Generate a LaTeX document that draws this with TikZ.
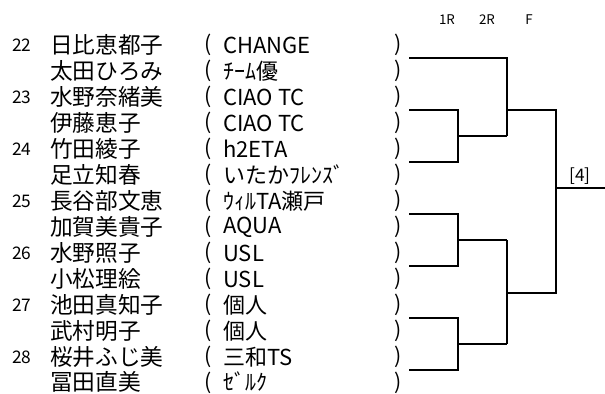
\documentclass[tikz,border=0pt]{standalone}
\usepackage{fontspec}
\setmainfont{Noto Sans CJK JP}

\tikzset{
    player/.style={anchor=west, inner sep=0pt, font=\fontsize{17}{17}\selectfont},
    clubname/.style={anchor=west, inner sep=0pt, font=\fontsize{16.5}{17}\selectfont},
    parenthesis/.style={inner sep=0pt, font=\fontsize{16}{17}\selectfont},
    seednum/.style={inner sep=0pt, font=\fontsize{13}{13}\selectfont},
    roundlbl/.style={inner sep=0pt, font=\fontsize{10}{10}\selectfont},
    bracket/.style={line width=1.4pt}
}

\begin{document}
\begin{tikzpicture}[x=0.75pt, y=-0.75pt]
    \useasboundingbox (0,0) rectangle (605,393);

    % Header
    \node[roundlbl] (r1) at (447,20) {1R};
    \node[roundlbl] (r2) at (487,20) {2R};
    \node[roundlbl] (rf) at (529,20) {F};

    % Seeds
    \node[seednum] (n22) at (22,45) {22};
    \node[seednum] (n23) at (22,97) {23};
    \node[seednum] (n24) at (22,149) {24};
    \node[seednum] (n25) at (22,201) {25};
    \node[seednum] (n26) at (22,253) {26};
    \node[seednum] (n27) at (22,305) {27};
    \node[seednum] (n28) at (22,357) {28};

    % Players
    \node[player] (a1) at (50,45) {日比恵都子};
    \node[player] (a2) at (50,71) {太田ひろみ};
    \node[player] (a3) at (50,97) {水野奈緒美};
    \node[player] (a4) at (50,123) {伊藤恵子};
    \node[player] (a5) at (50,149) {竹田綾子};
    \node[player] (a6) at (50,175) {足立知春};
    \node[player] (a7) at (50,201) {長谷部文恵};
    \node[player] (a8) at (50,227) {加賀美貴子};
    \node[player] (a9) at (50,253) {水野照子};
    \node[player] (a10) at (50,279) {小松理絵};
    \node[player] (a11) at (50,305) {池田真知子};
    \node[player] (a12) at (50,331) {武村明子};
    \node[player] (a13) at (50,357) {桜井ふじ美};
    \node[player] (a14) at (50,382) {冨田直美};

    % Clubs
    \node[clubname] (c1) at (223,45) {CHANGE};
    \node[clubname] (c2) at (223,71) {ﾁｰﾑ優};
    \node[clubname] (c3) at (223,97) {CIAO TC};
    \node[clubname] (c4) at (223,123) {CIAO TC};
    \node[clubname] (c5) at (223,149) {h2ETA};
    \node[clubname] (c6) at (223,175) {いたかﾌﾚﾝｽﾞ};
    \node[clubname] (c7) at (223,201) {ｳｨﾙTA瀬戸};
    \node[clubname] (c8) at (223,227) {AQUA};
    \node[clubname] (c9) at (223,253) {USL};
    \node[clubname] (c10) at (223,279) {USL};
    \node[clubname] (c11) at (223,305) {個人};
    \node[clubname] (c12) at (223,331) {個人};
    \node[clubname] (c13) at (223,357) {三和TS};
    \node[clubname] (c14) at (223,382) {ｾﾞﾙｸ};

    \foreach \i in {1,...,14} {
        \node[parenthesis] (o\i) at (208,{45+26*(\i-1)}) {(};
        \node[parenthesis] (e\i) at (398,{45+26*(\i-1)}) {)};
    }

    % Lines
    \coordinate (p1) at (409,58);
    \coordinate (p2) at (409,110);
    \coordinate (p3) at (409,162);
    \coordinate (p4) at (409,214);
    \coordinate (p5) at (409,266);
    \coordinate (p6) at (409,318);
    \coordinate (p7) at (409,370);

    \draw[bracket] (p2) -- (458,110) -- (458,162) -- (p3);
    \draw[bracket] (458,136) -- (507,136);
    \draw[bracket] (p1) -- (507,58) -- (507,136);
    \draw[bracket] (p4) -- (458,214) -- (458,266) -- (p5);
    \draw[bracket] (458,240) -- (507,240);
    \draw[bracket] (p6) -- (458,318) -- (458,370) -- (p7);
    \draw[bracket] (458,344) -- (507,344);
    \draw[bracket] (507,240) -- (507,344);
    \draw[bracket] (507,110) -- (556,110) -- (556,293) -- (507,293);
    \coordinate (w) at (605,188);
    \draw[bracket] (556,188) -- (w);
    \node[clubname, anchor=center, font=\fontsize{13}{13}\selectfont] (res) at (580,176) {[4]};
\end{tikzpicture}
\end{document}
